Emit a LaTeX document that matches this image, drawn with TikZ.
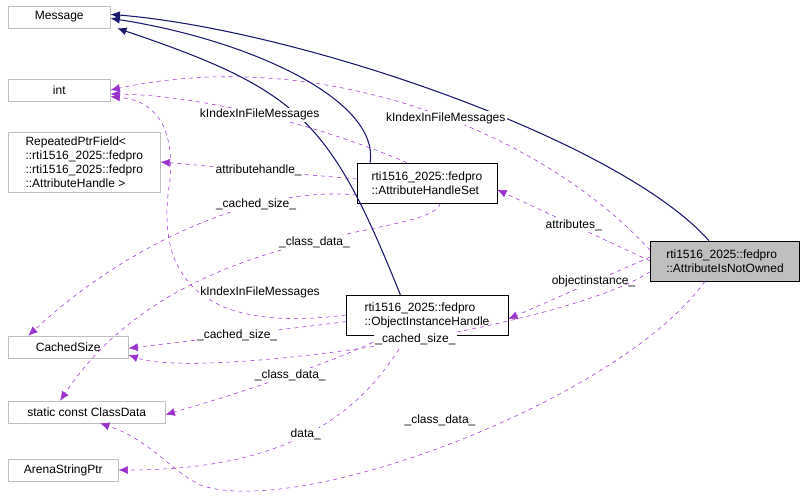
\documentclass[tikz,border=0pt]{standalone}
\usepackage{fontspec}
\setmainfont{Liberation Sans}
\usetikzlibrary{arrows.meta,arrows}
\definecolor{edgeblue}{RGB}{25,25,112}
\definecolor{edgepurple}{RGB}{154,50,205}
\definecolor{boxgray}{RGB}{191,191,191}
\tikzset{
	every node/.style={font=\fontsize{9}{10.5}\selectfont},
	ext/.style={rectangle, draw=boxgray, anchor=west, minimum height=16.5pt, inner xsep=4pt, align=left},
	cls/.style={rectangle, draw, minimum height=30pt, inner xsep=4pt, align=left},
	self/.style={cls, fill=boxgray},
	inherit/.style={draw=edgeblue, -{Latex[length=7pt,width=6pt]}, thick},
	member/.style={draw=edgepurple, dashed, -{Latex[length=7pt,width=6pt]}},
	lbl/.style={fill=white, inner sep=1pt}
}
\begin{document}
\begin{tikzpicture}[x=0.75pt,y=-0.75pt]
\useasboundingbox (0,0) rectangle (808,496);

\node[ext, minimum width=76.5pt] (message) at (8,17) {Message};
\node[ext, minimum width=76.5pt] (int) at (8,90) {int};
\node[ext, minimum width=114pt] (repeated) at (8,162) {RepeatedPtrField<\\ ::rti1516\_2025::fedpro\\ ::rti1516\_2025::fedpro\\ ::AttributeHandle >};
\node[ext, minimum width=90pt] (cachedsize) at (8,347) {CachedSize};
\node[ext, minimum width=117.75pt] (classdata) at (8,412) {static const ClassData};
\node[ext, minimum width=82.5pt] (arena) at (8,470) {ArenaStringPtr};
\node[cls, minimum width=105pt] (handleset) at (427,183) {rti1516\_2025::fedpro\\::AttributeHandleSet};
\node[cls, minimum width=121.5pt] (instance) at (427,315) {rti1516\_2025::fedpro\\::ObjectInstanceHandle};
\node[self, minimum width=111.75pt] (notowned) at (725,261) {rti1516\_2025::fedpro\\::AttributeIsNotOwned};

% inheritance
\draw[inherit] ([xshift=-12pt]notowned.north) .. controls (620,140) and (300,30) .. ([yshift=2pt]message.east);
\draw[inherit] ([xshift=10pt]handleset.north west) .. controls (380,100) and (250,40) .. ([yshift=-1pt]message.east);
\draw[inherit] ([xshift=-20pt]instance.north) .. controls (330,120) and (300,90) .. ([xshift=5pt]message.south east);

% members
\draw[member] ([yshift=8pt]notowned.west) .. controls (540,130) and (320,45) .. (int.east)
	node[lbl, pos=0.45] {kIndexInFileMessages};
\draw[member] ([xshift=-15pt]handleset.north) .. controls (320,125) and (200,95) .. ([yshift=-3pt]int.east)
	node[lbl, pos=0.5] {kIndexInFileMessages};
\draw[member] (instance.west) .. controls (230,330) and (150,300) .. (170,180)
	.. controls (175,120) and (150,100) .. ([yshift=-5pt]int.east);
\node[lbl] (kidx3) at (260,292) {kIndexInFileMessages};
\draw[member] ([yshift=3pt]handleset.west) -- (repeated.east)
	node[lbl, midway] {attributehandle\_};
\draw[member] ([yshift=-9pt]handleset.west) .. controls (250,185) and (120,250) .. ([xshift=-30pt]cachedsize.north)
	node[lbl, pos=0.3] {\_cached\_size\_};
\draw[member] ([xshift=10pt]handleset.south) .. controls (430,240) and (180,220) .. ([xshift=-20pt]classdata.north)
	node[lbl, pos=0.45] {\_class\_data\_};
\draw[member] (notowned.west) -- ([yshift=-5pt]handleset.east)
	node[lbl, midway] {attributes\_};
\draw[member] ([yshift=3pt]notowned.west) -- ([yshift=-3pt]instance.east)
	node[lbl, pos=0.4] {objectinstance\_};
\draw[member] ([yshift=-5pt]instance.west) -- ([yshift=-1pt]cachedsize.east)
	node[lbl, midway] {\_cached\_size\_};
\draw[member] ([xshift=-30pt]instance.south) .. controls (340,360) and (250,390) .. ([yshift=-2pt]classdata.east)
	node[lbl, pos=0.5] {\_class\_data\_};
\draw[member] ([xshift=-15pt]instance.south) .. controls (360,420) and (280,470) .. (arena.east)
	node[lbl, pos=0.5] {data\_};
\draw[member] ([yshift=-8pt]notowned.west) .. controls (560,330) and (200,380) .. ([yshift=-6pt]cachedsize.east)
	node[lbl, pos=0.45] {\_cached\_size\_};
\draw[member] ([xshift=-15pt]notowned.south) .. controls (620,400) and (300,520) .. (200,485)
	.. controls (170,470) and (150,440) .. ([xshift=10pt]classdata.south);
\node[lbl] (cdlbl) at (440,420) {\_class\_data\_};
\end{tikzpicture}
\end{document}
